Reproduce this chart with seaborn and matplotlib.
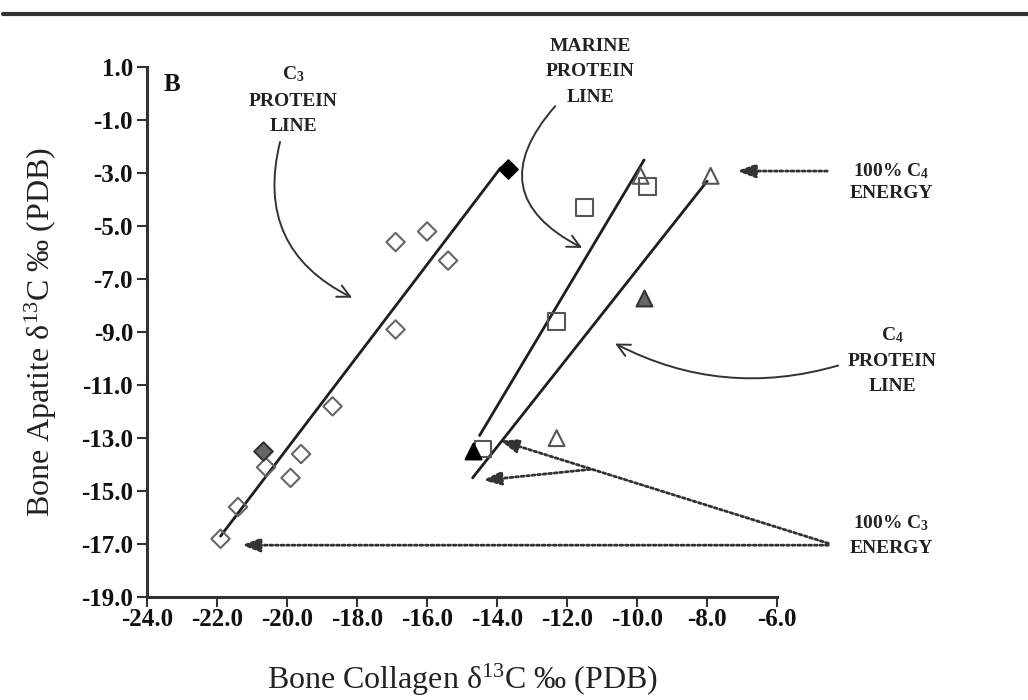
import matplotlib
matplotlib.use("Agg")
import matplotlib.pyplot as plt
from matplotlib.lines import Line2D
import seaborn as sns
import pandas as pd

# ---------------- data ----------------
open_diamond_x = [-21.9, -21.4, -20.6, -19.9, -19.6, -18.7, -16.9, -16.9, -16.0, -15.4]
open_diamond_y = [-16.8, -15.6, -14.1, -14.5, -13.6, -11.8, -8.9, -5.6, -5.2, -6.3]
gray_diamond_x = [-20.7]
gray_diamond_y = [-13.5]
black_diamond_x = [-13.7]
black_diamond_y = [-2.85]

open_square_x = [-14.4, -12.3, -11.5, -9.7]
open_square_y = [-13.4, -8.6, -4.3, -3.5]

open_triangle_x = [-9.9, -7.9, -12.3]
open_triangle_y = [-3.1, -3.1, -13.0]
gray_triangle_x = [-9.8]
gray_triangle_y = [-7.7]
black_triangle_x = [-14.7]
black_triangle_y = [-13.5]

c3_line_x = [-21.9, -13.9]
c3_line_y = [-16.7, -2.8]
marine_line_x = [-14.5, -9.8]
marine_line_y = [-12.9, -2.5]
c4_line_x = [-14.7, -8.0]
c4_line_y = [-14.5, -3.3]

x_ticks = [-24, -22, -20, -18, -16, -14, -12, -10, -8, -6]
y_ticks = [1, -1, -3, -5, -7, -9, -11, -13, -15, -17, -19]
x_tick_labels = [f"{v:.1f}" for v in x_ticks]
y_tick_labels = [f"{v:.1f}" for v in y_ticks]

# ---------------- style ----------------
sns.set_theme(style="white")
plt.rcParams['font.family'] = ['Liberation Serif', 'DejaVu Serif']
plt.rcParams['mathtext.fontset'] = 'custom'
plt.rcParams['mathtext.rm'] = 'Liberation Serif'
plt.rcParams['mathtext.bf'] = 'Liberation Serif:bold'
plt.rcParams['mathtext.it'] = 'Liberation Serif:italic'

fig = plt.figure(figsize=(10.28, 7.0), dpi=100)
ax = fig.add_axes([0.143, 0.147, 0.613, 0.757])

LINE_C = "#1e1e1e"
for lx, ly in [(c3_line_x, c3_line_y), (marine_line_x, marine_line_y), (c4_line_x, c4_line_y)]:
    sns.lineplot(x=lx, y=ly, ax=ax, color=LINE_C, linewidth=2.0, sort=False,
                 estimator=None, legend=False, zorder=2)

def pts(xs, ys, marker, size, face, edge, lw=1.5, z=3):
    df = pd.DataFrame({"x": xs, "y": ys})
    sns.scatterplot(data=df, x="x", y="y", ax=ax, marker=marker, s=size,
                    color="white", edgecolor=edge, linewidth=lw, legend=False, zorder=z)
    ax.collections[-1].set_facecolor(face)

pts(open_diamond_x, open_diamond_y, "D", 88, "none", "#666666")
pts(gray_diamond_x, gray_diamond_y, "D", 88, "#666666", "#333333")
pts(black_diamond_x, black_diamond_y, "D", 88, "#000000", "#000000")
pts(open_square_x, open_square_y, "s", 140, "none", "#555555")
pts(open_triangle_x, open_triangle_y, "^", 130, "none", "#555555")
pts(gray_triangle_x, gray_triangle_y, "^", 130, "#666666", "#333333", z=4)
pts(black_triangle_x, black_triangle_y, "^", 130, "#000000", "#000000", z=4)

# ---------------- axes ----------------
ax.set_xlim(-24, -6)
ax.set_ylim(-19, 1)
ax.set_xticks(x_ticks)
ax.set_xticklabels(x_tick_labels, fontweight="bold")
ax.set_yticks(y_ticks)
ax.set_yticklabels(y_tick_labels, fontweight="bold")
ax.tick_params(axis="both", which="both", bottom=True, left=True, direction="out",
               length=7, width=1.5, color="#333333", labelsize=18, pad=3,
               labelcolor="#111111")
ax.tick_params(axis="x", pad=1)
sns.despine(ax=ax)
for side in ["left", "bottom"]:
    ax.spines[side].set_color("#333333")
    ax.spines[side].set_linewidth(2.2)
ax.grid(False)

ax.set_xlabel(r"Bone Collagen δ$^{\mathrm{13}}$C ‰ (PDB)", fontsize=23, color="#222222", labelpad=22)
ax.set_ylabel(r"Bone Apatite δ$^{\mathrm{13}}$C ‰ (PDB)", fontsize=23, color="#222222", labelpad=16)

# ---------------- annotations ----------------
TXT = dict(fontsize=14, fontweight="bold", color="#222222", ha="center", va="center", clip_on=False)

ax.text(-23.29, 0.36, "B", fontsize=18, fontweight="bold", color="#111111", ha="center", va="center")

for yv, s in [(0.74, r"C$_{\mathbf{3}}$"), (-0.28, "PROTEIN"), (-1.22, "LINE")]:
    ax.text(-19.83, yv, s, **TXT)
for yv, s in [(1.79, "MARINE"), (0.85, "PROTEIN"), (-0.13, "LINE")]:
    ax.text(-11.34, yv, s, **TXT)
for yv, s in [(-2.92, r"100% C$_{\mathbf{4}}$"), (-3.78, "ENERGY")]:
    ax.text(-2.74, yv, s, **TXT)
for yv, s in [(-9.13, r"C$_{\mathbf{4}}$"), (-10.11, "PROTEIN"), (-11.05, "LINE")]:
    ax.text(-2.71, yv, s, **TXT)
for yv, s in [(-16.21, r"100% C$_{\mathbf{3}}$"), (-17.15, "ENERGY")]:
    ax.text(-2.74, yv, s, **TXT)

curve = dict(arrowstyle="->,head_length=0.9,head_width=0.45", color="#333333", lw=1.4,
             shrinkA=0, shrinkB=0, mutation_scale=10)
ax.annotate("", xy=(-18.14, -7.70), xytext=(-20.2, -1.82),
            arrowprops=dict(connectionstyle="arc3,rad=0.4", **curve), annotation_clip=False)
ax.annotate("", xy=(-11.57, -5.82), xytext=(-12.34, -0.47),
            arrowprops=dict(connectionstyle="arc3,rad=0.64", **curve), annotation_clip=False)
ax.annotate("", xy=(-10.63, -9.43), xytext=(-4.26, -10.26),
            arrowprops=dict(connectionstyle="arc3,rad=-0.2", **curve), annotation_clip=False)

dotted = dict(arrowstyle="-|>,head_length=1.1,head_width=0.42", color="#333333", lw=2.0,
              linestyle=(0, (1, 1)), shrinkA=0, shrinkB=0, mutation_scale=10)
for (x0, y0), (x1, y1) in [((-4.57, -2.92), (-7.14, -2.92)),
                           ((-4.54, -17.04), (-21.29, -17.04)),
                           ((-4.54, -16.97), (-13.91, -13.09)),
                           ((-11.34, -14.18), (-14.4, -14.59))]:
    ax.annotate("", xy=(x1, y1), xytext=(x0, y0),
                arrowprops=dict(**dotted), annotation_clip=False)

# top rule
fig.add_artist(Line2D([0.003, 1.0], [0.98, 0.98], transform=fig.transFigure,
                      color="#333333", linewidth=3.0))

fig.savefig("out.png", dpi=100)
